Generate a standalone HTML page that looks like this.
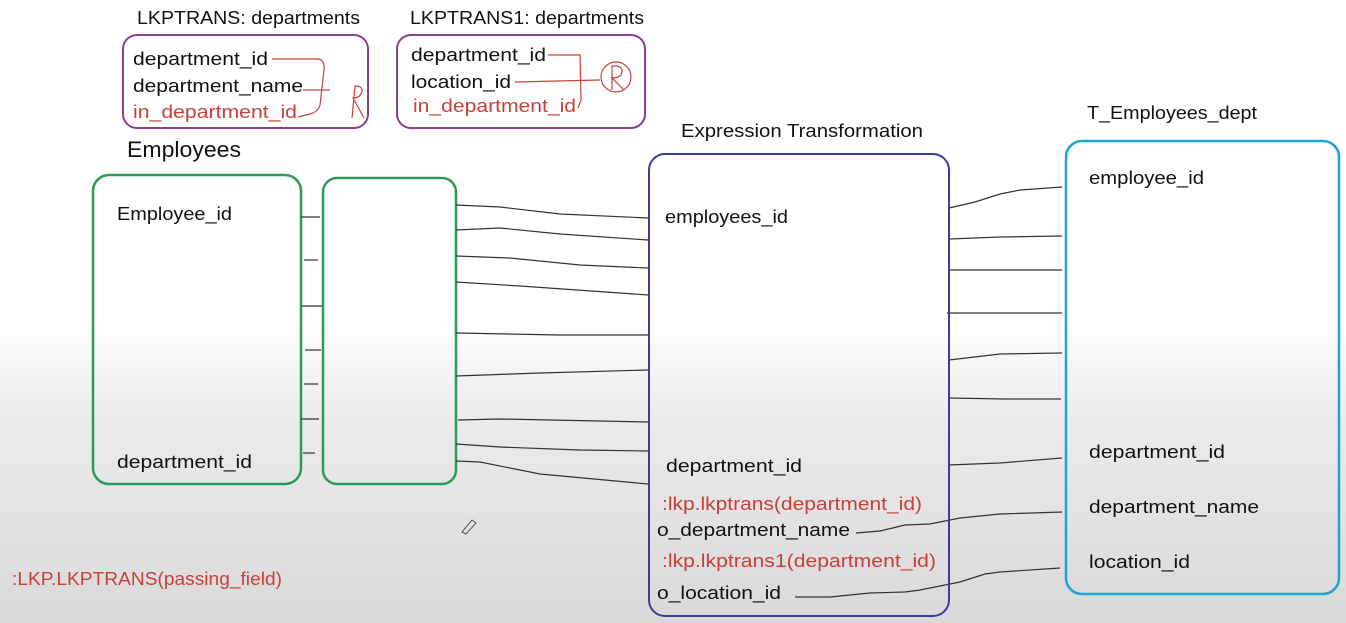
<!DOCTYPE html>
<html><head><meta charset="utf-8"><style>
html,body{margin:0;padding:0;width:1346px;height:623px;overflow:hidden}
body{background:linear-gradient(to bottom,#fff 0px,#fff 320px,#ebebeb 420px,#d9d9d9 623px)}
svg{position:absolute;left:0;top:0}
text{font-family:"Liberation Sans",sans-serif;font-size:18px;fill:#111}
.r{fill:#c8403a}
</style></head><body>
<svg width="1346" height="623" viewBox="0 0 1346 623">
<text x="137" y="24" textLength="223" lengthAdjust="spacingAndGlyphs">LKPTRANS: departments</text>
<text x="410" y="24" textLength="234" lengthAdjust="spacingAndGlyphs">LKPTRANS1: departments</text>
<rect x="123" y="35" width="245" height="93" rx="14" fill="none" stroke="#8a3f8f" stroke-width="2"/>
<rect x="397" y="35" width="248" height="93" rx="14" fill="none" stroke="#8a3f8f" stroke-width="2"/>
<text x="133" y="65" textLength="135" lengthAdjust="spacingAndGlyphs">department_id</text>
<text x="133" y="92" textLength="170" lengthAdjust="spacingAndGlyphs">department_name</text>
<text class="r" x="133" y="118" textLength="164" lengthAdjust="spacingAndGlyphs">in_department_id</text>
<text x="411" y="61" textLength="135" lengthAdjust="spacingAndGlyphs">department_id</text>
<text x="411" y="88" textLength="100" lengthAdjust="spacingAndGlyphs">location_id</text>
<text class="r" x="413" y="112" textLength="163" lengthAdjust="spacingAndGlyphs">in_department_id</text>
<g fill="none" stroke="#c8403a" stroke-width="1.2">
<path d="M272 59 L318 59 Q325 60 324 70 L320 105 Q318 112 310 114 L298 117"/>
<path d="M303 90 L330 90"/>
<path d="M352 118 L355 86 Q363 86 362 92 Q360 98 353 98 L364 118"/>
<path d="M548 55 L580 55 L581 100 L578 108"/>
<path d="M515 82 L600 80"/>
<circle cx="616" cy="77" r="15"/>
<path d="M612 90 L612 66 Q622 65 622 71 Q622 78 612 78 L624 90"/>
</g>
<text x="127" y="157" textLength="114" lengthAdjust="spacingAndGlyphs" style="font-size:22px">Employees</text>
<rect x="93" y="175" width="208" height="309" rx="16" fill="none" stroke="#2e9a5a" stroke-width="2.5"/>
<rect x="323" y="178" width="133" height="306" rx="14" fill="none" stroke="#2e9a5a" stroke-width="2.5"/>
<text x="117" y="220" textLength="115" lengthAdjust="spacingAndGlyphs">Employee_id</text>
<text x="117" y="468" textLength="135" lengthAdjust="spacingAndGlyphs">department_id</text>
<g stroke="#333" stroke-width="1.2" fill="none">
<path d="M301 217 H320"/><path d="M304 260 H318"/><path d="M301 306 H322"/><path d="M305 350 H321"/>
<path d="M304 384 H318"/><path d="M301 419 H319"/><path d="M303 453 H315"/>
<path d="M456 205 L500 207 L560 214 L648 218"/>
<path d="M456 230 L500 228 L560 234 L648 240"/>
<path d="M456 256 L510 258 L580 265 L648 268"/>
<path d="M456 282 L520 286 L648 295"/>
<path d="M456 333 L560 335 L648 335"/>
<path d="M456 376 L540 373 L648 370"/>
<path d="M458 420 L500 419 L648 422"/>
<path d="M456 444 L500 447 L580 450 L648 451"/>
<path d="M456 461 L480 462 L540 474 L648 484"/>
<path d="M949 208 L975 202 L1000 194 L1020 190 L1062 187"/>
<path d="M949 239 L1000 237 L1062 236"/>
<path d="M948 270 L1062 270"/>
<path d="M947 313 L1062 313"/>
<path d="M949 360 L1000 354 L1062 353"/>
<path d="M948 398 L1005 399 L1061 399"/>
<path d="M948 465 L1000 463 L1062 458"/>
<path d="M856 533 L880 531 L905 525 L930 524 L960 518 L1000 514 L1062 512"/>
<path d="M795 597 L830 597 L870 593 L905 592 L920 590 L960 582 L985 574 L1000 572 L1060 568"/>
</g>
<text x="681" y="137" textLength="242" lengthAdjust="spacingAndGlyphs">Expression Transformation</text>
<rect x="649" y="154" width="300" height="462" rx="16" fill="none" stroke="#3c3ca0" stroke-width="2"/>
<text x="665" y="223" textLength="123" lengthAdjust="spacingAndGlyphs">employees_id</text>
<text x="666" y="472" textLength="136" lengthAdjust="spacingAndGlyphs">department_id</text>
<text class="r" x="662" y="510" textLength="260" lengthAdjust="spacingAndGlyphs">:lkp.lkptrans(department_id)</text>
<text x="657" y="536" textLength="193" lengthAdjust="spacingAndGlyphs">o_department_name</text>
<text class="r" x="662" y="567" textLength="274" lengthAdjust="spacingAndGlyphs">:lkp.lkptrans1(department_id)</text>
<text x="657" y="599" textLength="124" lengthAdjust="spacingAndGlyphs">o_location_id</text>
<text x="1087" y="119" textLength="170" lengthAdjust="spacingAndGlyphs">T_Employees_dept</text>
<rect x="1066" y="141" width="273" height="453" rx="16" fill="none" stroke="#1ca5d0" stroke-width="2.5"/>
<text x="1089" y="184" textLength="115" lengthAdjust="spacingAndGlyphs">employee_id</text>
<text x="1089" y="458" textLength="136" lengthAdjust="spacingAndGlyphs">department_id</text>
<text x="1089" y="513" textLength="170" lengthAdjust="spacingAndGlyphs">department_name</text>
<text x="1089" y="568" textLength="101" lengthAdjust="spacingAndGlyphs">location_id</text>
<text class="r" x="12" y="585" textLength="270" lengthAdjust="spacingAndGlyphs">:LKP.LKPTRANS(passing_field)</text>
<path d="M462 532 L472 520 L476 523 L466 534 Z" fill="none" stroke="#555" stroke-width="1"/>
</svg>
</body></html>
